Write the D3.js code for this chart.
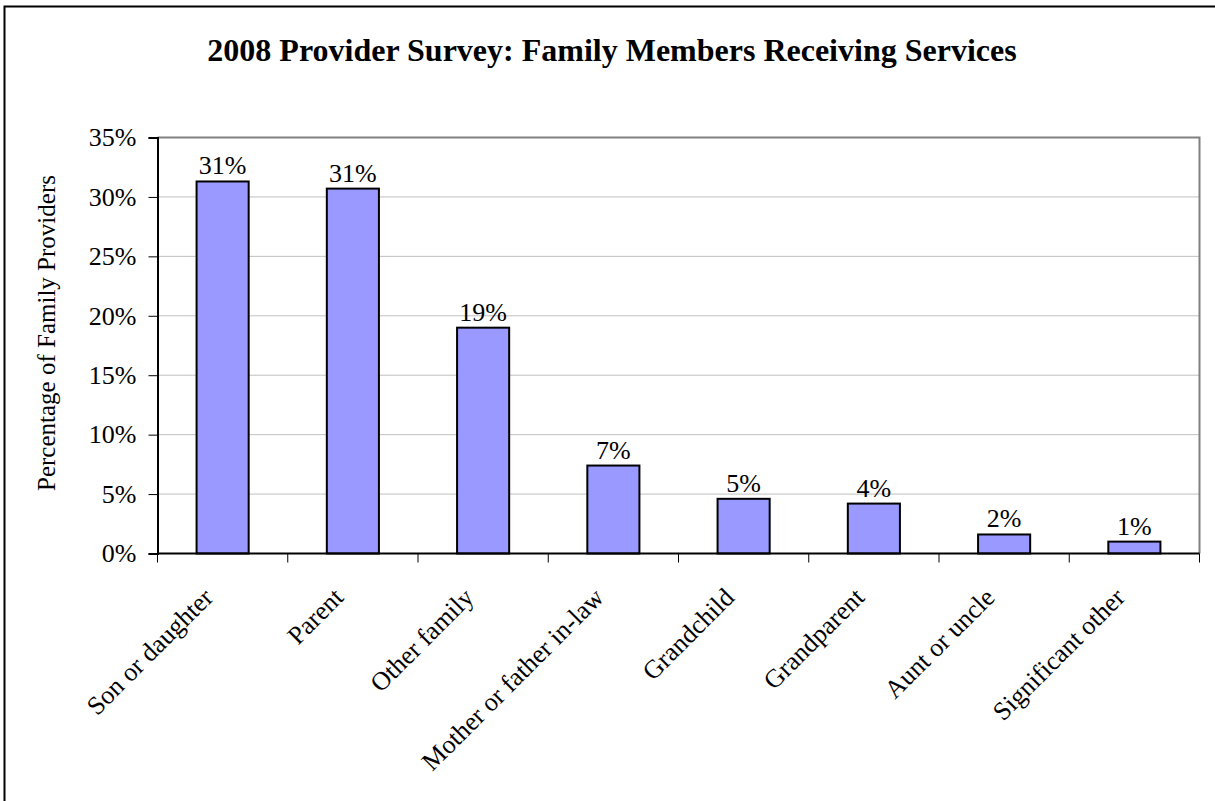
<!DOCTYPE html>
<html>
<head>
<meta charset="utf-8">
<script src="https://cdn.jsdelivr.net/npm/d3@7/dist/d3.min.js"></script>
<style>
  html, body { margin: 0; padding: 0; background: #fff; }
  svg { display: block; }
  text { font-family: "Liberation Serif", "Times New Roman", serif; fill: #000; }
</style>
</head>
<body>
<svg id="chart" width="1215" height="801"></svg>
<script>
// Share of family providers by relationship of the person receiving services
const categories = ["Son or daughter", "Parent", "Other family", "Mother or father in-law",
                    "Grandchild", "Grandparent", "Aunt or uncle", "Significant other"];
const values = [0.313, 0.307, 0.190, 0.074, 0.046, 0.042, 0.016, 0.010];
const yTicks = [0, 0.05, 0.10, 0.15, 0.20, 0.25, 0.30, 0.35];
const titleText = "2008 Provider Survey: Family Members Receiving Services";
const yTitle = "Percentage of Family Providers";

const svg = d3.select("#chart");
const plot = { left: 157.5, right: 1199.5, top: 137.5, bottom: 553.5 };

// Outer chart frame
svg.append("rect")
  .attr("x", 4.5).attr("y", 6.5)
  .attr("width", 1230).attr("height", 820)
  .attr("fill", "#fff").attr("stroke", "#000").attr("stroke-width", 2);

const x = d3.scaleBand().domain(categories).range([plot.left, plot.right]).paddingInner(0.6).paddingOuter(0.3);
const xEdge = d3.scaleLinear().domain([0, categories.length]).range([plot.left, plot.right]);
const y = d3.scaleLinear().domain([0, 0.35]).range([plot.bottom, plot.top]);
const pct = d3.format(".0%");

// Horizontal gridlines
svg.append("g").selectAll("line").data(yTicks.filter(t => t > 0 && t < 0.35)).join("line")
  .attr("x1", plot.left).attr("x2", plot.right)
  .attr("y1", d => y(d)).attr("y2", d => y(d))
  .attr("stroke", "#c0c0c0").attr("stroke-width", 1);

// Top and right edges of the plot area
svg.append("path")
  .attr("d", `M${plot.left},${plot.top}H${plot.right}V${plot.bottom}`)
  .attr("fill", "none").attr("stroke", "#808080").attr("stroke-width", 2);

// Bars
svg.append("g").selectAll("rect").data(values).join("rect")
  .attr("x", (d, i) => x(categories[i]))
  .attr("width", x.bandwidth())
  .attr("y", d => y(d))
  .attr("height", d => y(0) - y(d))
  .attr("fill", "#9999ff").attr("stroke", "#000").attr("stroke-width", 2);

// Value labels
svg.append("g").selectAll("text").data(values).join("text")
  .attr("x", (d, i) => x(categories[i]) + x.bandwidth() / 2)
  .attr("y", d => y(d) - 7)
  .attr("text-anchor", "middle")
  .attr("font-size", 26)
  .text(d => pct(d));

// Y axis
const yAxis = d3.axisLeft(y).tickValues(yTicks).tickFormat(pct).tickSize(9).tickPadding(12);
const gy = svg.append("g").attr("transform", `translate(${plot.left},0)`).call(yAxis);
gy.select(".domain").attr("stroke", "#000").attr("stroke-width", 2);
gy.selectAll(".tick line").attr("stroke", "#000").attr("stroke-width", 1);
gy.selectAll(".tick text").attr("font-size", 26).attr("font-family", "Liberation Serif, serif").attr("fill", "#000");

// X axis line with tick marks at category boundaries
svg.append("line")
  .attr("x1", plot.left).attr("x2", plot.right)
  .attr("y1", plot.bottom).attr("y2", plot.bottom)
  .attr("stroke", "#000").attr("stroke-width", 2);
svg.append("g").selectAll("line").data(d3.range(categories.length + 1)).join("line")
  .attr("x1", d => xEdge(d)).attr("x2", d => xEdge(d))
  .attr("y1", plot.bottom).attr("y2", plot.bottom + 9)
  .attr("stroke", "#000").attr("stroke-width", 1);

// Rotated category labels
svg.append("g").selectAll("text").data(categories).join("text")
  .attr("transform", d => `translate(${x(d) + x.bandwidth() / 2 - 8},599) rotate(-45)`)
  .attr("text-anchor", "end")
  .attr("font-size", 26)
  .text(d => d);

// Y axis title
svg.append("text")
  .attr("transform", "translate(55,333) rotate(-90)")
  .attr("text-anchor", "middle")
  .attr("font-size", 25)
  .text(yTitle);

// Chart title
svg.append("text")
  .attr("x", 612).attr("y", 61)
  .attr("text-anchor", "middle")
  .attr("font-size", 32).attr("font-weight", "bold")
  .text(titleText);
</script>
</body>
</html>
